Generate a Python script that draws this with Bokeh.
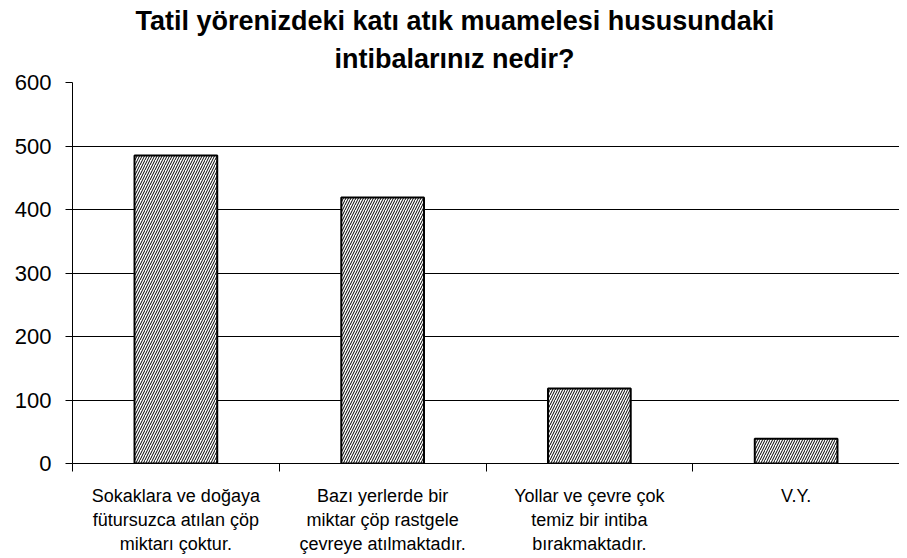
from bokeh.plotting import figure
from bokeh.models import FixedTicker, ColumnDataSource, Title
from bokeh.embed import file_html
from bokeh.resources import INLINE

title_lines = ["Tatil yörenizdeki katı atık muamelesi hususundaki", "intibalarınız nedir?"]
categories = [
    "Sokaklara ve doğaya\nfütursuzca atılan çöp\nmiktarı çoktur.",
    "Bazı yerlerde bir\nmiktar çöp rastgele\nçevreye atılmaktadır.",
    "Yollar ve çevre çok\ntemiz bir intiba\nbırakmaktadır.",
    "V.Y.",
]
values = [485, 419, 118, 39]
y_ticks = [0, 100, 200, 300, 400, 500, 600]

FONT = "Liberation Sans"
n = len(categories)
xc = [i + 0.5 for i in range(n)]
src = ColumnDataSource(dict(x=xc, top=values))

p = figure(x_range=(0, n), y_range=(0, 600),
           frame_width=827, frame_height=381,
           output_backend="svg", toolbar_location=None,
           min_border_left=72, min_border_top=82, min_border_right=0, min_border_bottom=88)
p.outline_line_color = None
p.background_fill_color = "white"

def style_title(t):
    t.align = "left"
    t.text_font = FONT
    t.text_font_style = "bold"
    t.text_font_size = "27px"
    t.text_color = "black"

p.title.text = title_lines[0]
style_title(p.title)
p.title.offset = 63
p.title.standoff = -5
t2 = Title(text=title_lines[1])
style_title(t2)
t2.offset = 262
t2.standoff = 17
p.add_layout(t2, "above")

p.vbar(x="x", top="top", width=0.4, source=src, fill_color="white",
       line_color="black", line_width=2,
       hatch_pattern="/", hatch_color="black", hatch_scale=5, hatch_weight=1)

p.xgrid.visible = False
p.ygrid.ticker = FixedTicker(ticks=y_ticks)
p.ygrid.grid_line_color = "black"
p.ygrid.grid_line_width = 1

ya = p.yaxis[0]
ya.ticker = FixedTicker(ticks=y_ticks)
ya.axis_line_color = "black"
ya.major_tick_line_color = "black"
ya.major_tick_in = 0
ya.major_tick_out = 7
ya.minor_tick_line_color = None
ya.major_label_text_font = FONT
ya.major_label_text_font_size = "22px"
ya.major_label_text_color = "black"
ya.major_label_standoff = 14

xa = p.xaxis[0]
xa.ticker = FixedTicker(ticks=xc, minor_ticks=list(range(n + 1)))
xa.major_label_overrides = {x: c for x, c in zip(xc, categories)}
xa.axis_line_color = "black"
xa.major_tick_line_color = None
xa.major_tick_in = 0
xa.major_tick_out = 0
xa.minor_tick_line_color = "black"
xa.minor_tick_in = 0
xa.minor_tick_out = 8
xa.major_label_text_font = FONT
xa.major_label_text_font_size = "18px"
xa.major_label_text_color = "black"
xa.major_label_standoff = 14

open("out.html", "w").write(file_html(p, INLINE))
